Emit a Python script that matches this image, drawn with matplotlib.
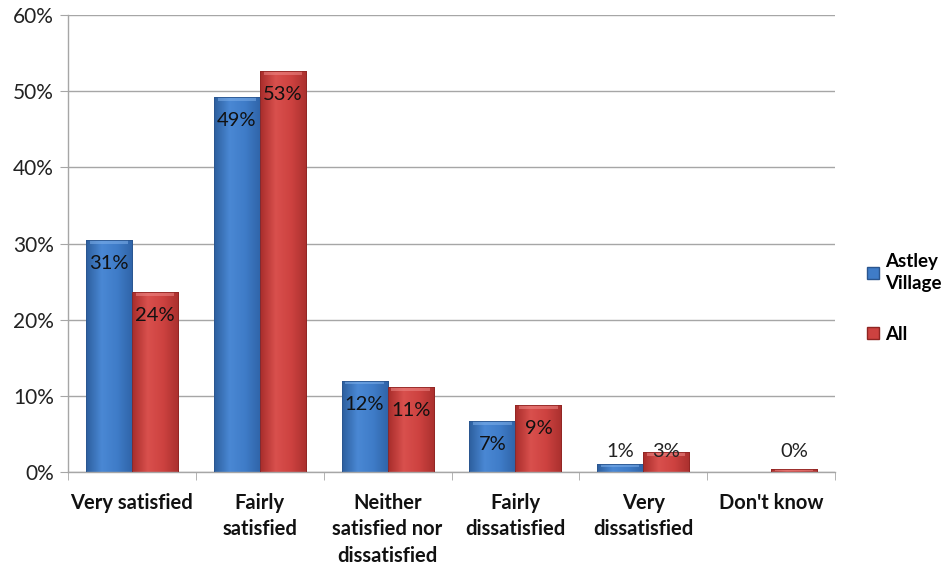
import numpy as np
import matplotlib
matplotlib.use("Agg")
import matplotlib.pyplot as plt
from matplotlib.colors import LinearSegmentedColormap
from matplotlib.patches import Patch

categories = ["Very satisfied", "Fairly\nsatisfied", "Neither\nsatisfied nor\ndissatisfied",
              "Fairly\ndissatisfied", "Very\ndissatisfied", "Don't know"]
astley = [30.5, 49.2, 12.0, 6.7, 1.1, 0.0]
all_resp = [23.6, 52.6, 11.2, 8.8, 2.6, 0.35]
astley_labels = ["31%", "49%", "12%", "7%", "1%", None]
all_labels = ["24%", "53%", "11%", "9%", "3%", "0%"]
series_names = ["Astley\nVillage", "All"]

plt.rcParams["font.family"] = ["Lato", "DejaVu Sans"]

fig = plt.figure(figsize=(9.46, 5.68), dpi=100)
ax = fig.add_axes([68 / 946, 1 - 472 / 568, (835 - 68) / 946, (472 - 15) / 568])

x = np.arange(len(categories))
w = 0.36
blue_cmap = LinearSegmentedColormap.from_list("b", ["#2d5f9e", "#4a88d4", "#3f7cc8", "#2f64a8"])
red_cmap = LinearSegmentedColormap.from_list("r", ["#a82d2b", "#d9504d", "#cd4240", "#aa302e"])

def draw(xpos, vals, cmap, edge, top):
    bars = ax.bar(xpos, vals, w, color="none", edgecolor=edge, linewidth=0.6, zorder=3)
    grad = np.linspace(0, 1, 64).reshape(1, -1)
    for b in bars:
        x0, y0 = b.get_x(), b.get_y()
        bw, bh = b.get_width(), b.get_height()
        if bh <= 0:
            continue
        im = ax.imshow(grad, cmap=cmap, aspect="auto", extent=[x0, x0 + bw, y0, y0 + bh],
                       zorder=2, interpolation="bicubic")
        im.set_clip_path(b)
        cap = min(0.5, bh * 0.5)
        ax.fill_between([x0 + 0.03, x0 + bw - 0.03], y0 + bh - cap, y0 + bh,
                        color=top, alpha=0.55, zorder=2.5, linewidth=0)
    return bars

draw(x - w / 2, astley, blue_cmap, "#2a558e", "#7fb0ea")
draw(x + w / 2, all_resp, red_cmap, "#8f2523", "#ee8a88")

def annotate(xpos, vals, labels):
    for xi, v, lab in zip(xpos, vals, labels):
        if lab is None:
            continue
        if v >= 5:
            ax.text(xi, v - 3.1, lab, ha="center", va="center", fontsize=14.5, color="#111111", zorder=4)
        else:
            ax.text(xi, 2.75, lab, ha="center", va="center", fontsize=14.5, color="#222222", zorder=4)

annotate(x - w / 2, astley, astley_labels)
annotate(x + w / 2, all_resp, all_labels)

ax.set_xlim(-0.5, len(categories) - 0.5)
ax.set_ylim(0, 60)
ax.set_yticks(np.arange(0, 61, 10))
ax.set_yticklabels([f"{t}%" for t in range(0, 61, 10)], fontsize=15, color="#222222")
ax.yaxis.grid(True, color="#a6a6a6", linewidth=1.0, zorder=0)
ax.set_axisbelow(True)

ax.set_xticks(x)
ax.set_xticklabels(categories, fontsize=14.5, fontweight="bold", color="#111111", linespacing=1.4, va="top")
ax.set_xticks(np.arange(-0.5, len(categories)), minor=True)
ax.tick_params(axis="x", which="major", length=0, pad=15)
ax.tick_params(axis="x", which="minor", length=6, color="#a6a6a6")
ax.tick_params(axis="y", length=6, color="#a6a6a6", pad=4)

for s in ["top", "right"]:
    ax.spines[s].set_visible(False)
for s in ["left", "bottom"]:
    ax.spines[s].set_color("#a6a6a6")
    ax.spines[s].set_linewidth(1.0)

handles = [Patch(facecolor="#3f7cc8", edgecolor="#2a558e"),
           Patch(facecolor="#cd4240", edgecolor="#8f2523")]
leg = fig.legend(handles, series_names, loc="center left", bbox_to_anchor=(858 / 946, 1 - 298 / 568),
                 frameon=False, prop={"size": 13.5, "weight": "bold"}, handlelength=0.6,
                 handleheight=0.6, handletextpad=0.35, labelspacing=1.8, borderpad=0)
for t in leg.get_texts():
    t.set_linespacing(1.35)

fig.savefig("out.png", dpi=100)
